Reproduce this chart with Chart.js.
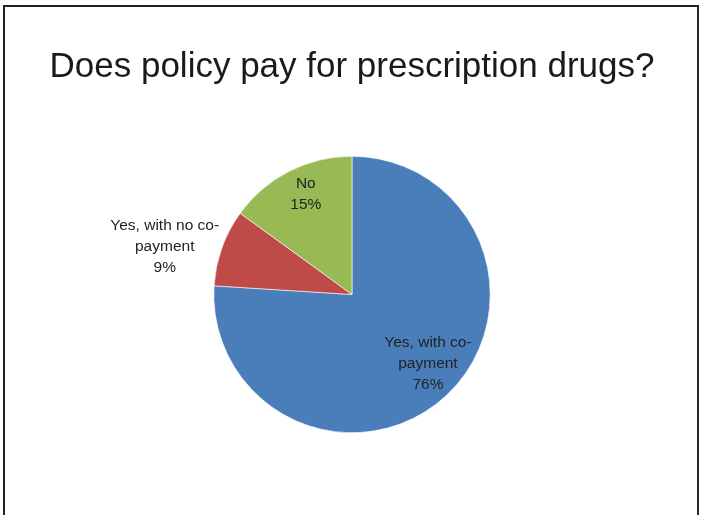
<!DOCTYPE html>
<html>
<head>
<meta charset="utf-8">
<script src="https://cdn.jsdelivr.net/npm/chart.js@4/dist/chart.umd.min.js"></script>
<style>
  html, body { margin: 0; padding: 0; background: #ffffff; }
  #wrap { position: relative; width: 702px; height: 515px; overflow: hidden; }
  #frame { position: absolute; left: 3px; top: 5px; width: 692px; height: 600px;
           border-left: 2px solid #231f20; border-top: 2px solid #231f20; border-right: 2px solid #2b2b2b; }
  canvas { position: absolute; left: 0; top: 0; }
</style>
</head>
<body>
<div id="wrap">
  <div id="frame"></div>
  <canvas id="c" width="702" height="515"></canvas>
</div>
<script>
const chartTitle = "Does policy pay for prescription drugs?";
const categories = ["Yes, with co-payment", "Yes, with no co-payment", "No"];
const percentValues = [76, 9, 15];
const sliceColors = ["#4A7EBB", "#BE4B48", "#98B954"];

// label placement (style only): inside at fraction of radius, or outside beside the arc
const labelPlacement = [
  { mode: "inside", f: 0.75, dx: 5, dy: -6 },
  { mode: "outside", gap: 3 },
  { mode: "inside", f: 0.80, dx: 4, dy: -2 }
];

const labelFont = "15.5px 'Liberation Sans', Arial, sans-serif";
const labelLineH = 21;

const pieLabels = {
  id: "pieLabels",
  afterDatasetsDraw(chart) {
    const ctx = chart.ctx;
    const meta = chart.getDatasetMeta(0);
    ctx.save();
    ctx.font = labelFont;
    ctx.fillStyle = "#222222";
    ctx.textAlign = "center";
    ctx.textBaseline = "middle";
    meta.data.forEach((arc, i) => {
      const p = arc.getProps(["x", "y", "startAngle", "endAngle", "outerRadius"], true);
      const mid = (p.startAngle + p.endAngle) / 2;
      const lines = categories[i].replace("co-", "co-\n").split("\n");
      lines.push(chart.data.datasets[0].data[i] + "%");
      const pl = labelPlacement[i];
      let cx, cy;
      if (pl.mode === "inside") {
        const d = p.outerRadius * pl.f;
        cx = p.x + Math.cos(mid) * d + (pl.dx || 0);
        cy = p.y + Math.sin(mid) * d + (pl.dy || 0);
      } else {
        const ax = p.x + Math.cos(mid) * (p.outerRadius + pl.gap);
        const ay = p.y + Math.sin(mid) * (p.outerRadius + pl.gap);
        const w = Math.max(...lines.map(l => ctx.measureText(l).width));
        cx = Math.cos(mid) < 0 ? ax - w / 2 : ax + w / 2;
        cy = ay;
      }
      const top = cy - (lines.length - 1) * labelLineH / 2;
      lines.forEach((l, k) => ctx.fillText(l, cx, top + k * labelLineH));
    });
    ctx.restore();
  }
};

new Chart(document.getElementById("c"), {
  type: "pie",
  data: {
    labels: categories,
    datasets: [{
      data: percentValues,
      backgroundColor: sliceColors,
      borderColor: "#ffffff",
      borderWidth: 0.6
    }]
  },
  options: {
    responsive: false,
    animation: false,
    layout: { padding: { left: 2, right: 0, top: 0, bottom: 82 } },
    plugins: {
      legend: { display: false },
      tooltip: { enabled: false },
      title: {
        display: true,
        text: chartTitle,
        color: "#1a1a1a",
        font: { family: "'Liberation Sans', Arial, sans-serif", size: 35, weight: "normal", lineHeight: 1.2 },
        padding: { top: 46.5, bottom: 67.5 }
      }
    }
  },
  plugins: [pieLabels]
});
</script>
</body>
</html>
